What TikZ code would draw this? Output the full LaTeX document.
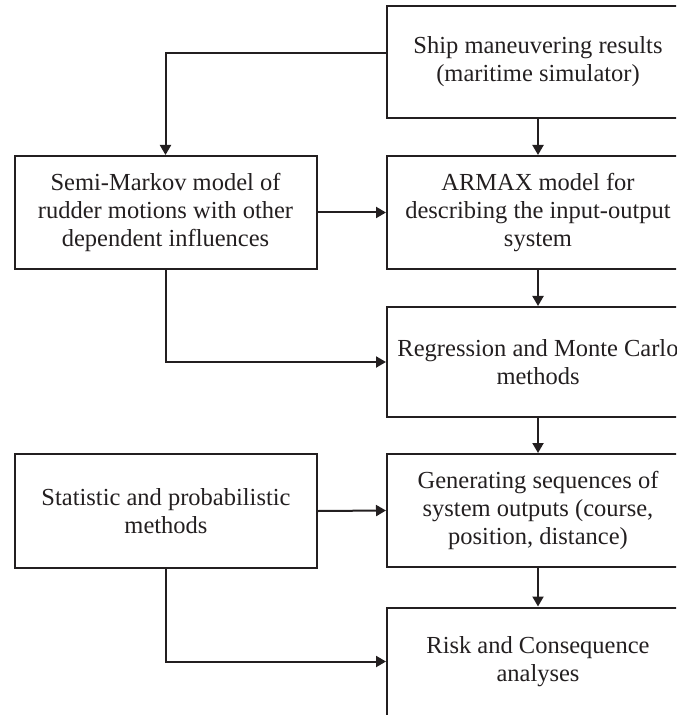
\documentclass[tikz,border=0pt]{standalone}
\usepackage{fontspec}
\setmainfont{Liberation Serif}
\usetikzlibrary{arrows.meta}
\definecolor{ink}{HTML}{231F20}
\begin{document}
\begin{tikzpicture}[x=0.5pt,y=-0.5pt,
  box/.style={draw=ink, line width=1pt, rectangle, inner sep=0pt,
    minimum width=151pt, minimum height=56.5pt, align=center,
    text=ink, font=\fontsize{12.25}{14}\selectfont},
  arr/.style={draw=ink, line width=1pt,
    -{Triangle[length=5pt,width=5.5pt]}}]
  \useasboundingbox (0,0) rectangle (676,715);
  \clip (0,0) rectangle (676,715);

  % right column
  \node[box, minimum height=56pt] (ship) at (538,62) {Ship maneuvering results\\(maritime simulator)};
  \node[box] (armax) at (538,212.5) {ARMAX model for\\describing the input-output\\system};
  \node[box, minimum height=55pt] (regr) at (538,362) {Regression and Monte Carlo\\methods};
  \node[box] (gen) at (538,510.5) {Generating sequences of\\system outputs (course,\\position, distance)};
  \node[box, minimum height=54pt] (risk) at (538,661.5) {Risk and Consequence\\analyses};

  % left column
  \node[box] (markov) at (165.5,212.5) {Semi-Markov model of\\rudder motions with other\\dependent influences};
  \node[box, minimum height=57pt] (stat) at (166,511) {Statistic and probabilistic\\methods};

  % connectors
  \draw[arr] ([yshift=4.5pt]ship.west) -| (markov.north);
  \draw[arr] (ship.south) -- (armax.north);
  \draw[arr] (markov.east) -- (armax.west);
  \draw[arr] (armax.south) -- (regr.north);
  \draw[arr] (markov.south) |- (regr.west);
  \draw[arr] (regr.south) -- (gen.north);
  \draw[arr] (stat.east) -- (gen.west);
  \draw[arr] (gen.south) -- (risk.north);
  \draw[arr] (stat.south) |- (risk.west);
\end{tikzpicture}
\end{document}
